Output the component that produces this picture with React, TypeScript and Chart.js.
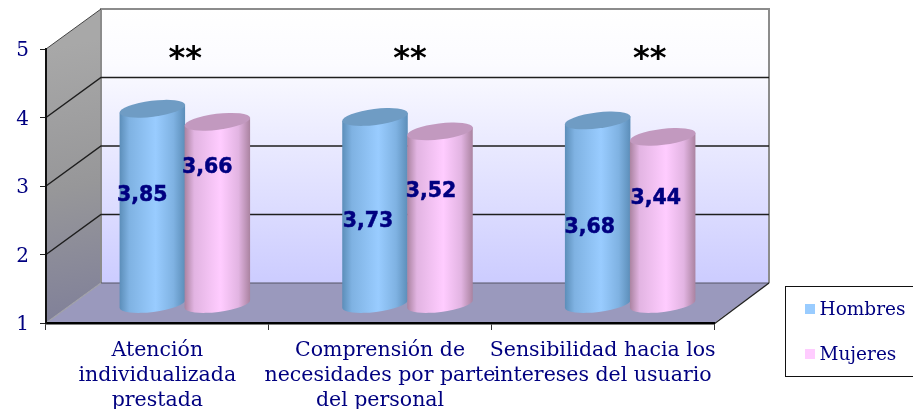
import React, { useEffect, useRef } from "react";
import { Chart, registerables } from "chart.js";

Chart.register(...registerables);

const categories = [
  ["Atención", "individualizada", "prestada"],
  ["Comprensión de", "necesidades por parte", "del personal"],
  ["Sensibilidad hacia los", "intereses del usuario"],
];
const hombres = [3.85, 3.73, 3.68];
const mujeres = [3.66, 3.52, 3.44];
const valueLabels = [
  ["3,85", "3,73", "3,68"],
  ["3,66", "3,52", "3,44"],
];
const significance = ["**", "**", "**"];
const starOffsets = [28, 30, 47];
const yTicks = [1, 2, 3, 4, 5];
const seriesNames = ["Hombres", "Mujeres"];

const labelOffsets = [
  [[17.5, 68], [20.5, 86], [19.5, 88]],
  [[17.5, 27], [18.5, 41], [20.5, 43]],
];

const NAVY = "#000080";
const DEPTH_X = 55;
const DEPTH_Y = -40;
const BAR_DX = 27.5;
const BAR_DY = -19;
const SERIF = "'DejaVu Serif'";
const palettes = [
  { edge: "#5b8db8", mid: "#7fb2e2", light: "#99ccff", cap: "#6f9cc4", swatch: "#99ccff" },
  { edge: "#a9829f", mid: "#e2b4e2", light: "#ffccff", cap: "#c299bf", swatch: "#ffccff" },
];

function drawCylinder(ctx: CanvasRenderingContext2D, el: any, base: number, pal: any) {
  const rot = (-7 * Math.PI) / 180;
  const rx = el.width / 2 + 0.5;
  const ry = 8;
  const cx = el.x + BAR_DX;
  const topY = el.y + BAR_DY;
  const botY = base + BAR_DY;
  const ex = rx * Math.cos(rot);
  const ey = rx * Math.sin(rot);
  const g = ctx.createLinearGradient(cx - rx, 0, cx + rx, 0);
  g.addColorStop(0, pal.edge);
  g.addColorStop(0.15, pal.mid);
  g.addColorStop(0.55, pal.light);
  g.addColorStop(0.82, pal.mid);
  g.addColorStop(1, pal.edge);
  ctx.save();
  ctx.beginPath();
  ctx.moveTo(cx - ex, topY - ey);
  ctx.lineTo(cx - ex, botY - ey);
  ctx.ellipse(cx, botY, rx, ry, rot, Math.PI, 0, true);
  ctx.lineTo(cx + ex, topY + ey);
  ctx.closePath();
  ctx.fillStyle = g;
  ctx.fill();
  ctx.beginPath();
  ctx.ellipse(cx, topY, rx, ry, rot, 0, Math.PI * 2);
  ctx.fillStyle = pal.cap;
  ctx.fill();
  ctx.restore();
}

const scene3d = {
  id: "scene3d",
  beforeDraw(chart: any) {
    const { ctx, chartArea: a, scales } = chart;
    const y = scales.y;
    const L = a.left, R = a.right, T = y.getPixelForValue(5), B = y.getPixelForValue(1);
    ctx.save();
    // back wall
    const back = ctx.createLinearGradient(0, T + DEPTH_Y, 0, B + DEPTH_Y);
    back.addColorStop(0, "#ffffff");
    back.addColorStop(0.2, "#fbfbff");
    back.addColorStop(1, "#ccccff");
    ctx.fillStyle = back;
    ctx.fillRect(L + DEPTH_X, T + DEPTH_Y, R - L, B - T);
    // left wall
    const side = ctx.createLinearGradient(L, T, L + DEPTH_X, B);
    side.addColorStop(0, "#a8a8a8");
    side.addColorStop(0.5, "#979799");
    side.addColorStop(1, "#7f7f99");
    ctx.beginPath();
    ctx.moveTo(L, B);
    ctx.lineTo(L, T);
    ctx.lineTo(L + DEPTH_X, T + DEPTH_Y);
    ctx.lineTo(L + DEPTH_X, B + DEPTH_Y);
    ctx.closePath();
    ctx.fillStyle = side;
    ctx.fill();
    // floor
    ctx.beginPath();
    ctx.moveTo(L, B);
    ctx.lineTo(R, B);
    ctx.lineTo(R + DEPTH_X, B + DEPTH_Y);
    ctx.lineTo(L + DEPTH_X, B + DEPTH_Y);
    ctx.closePath();
    ctx.fillStyle = "#9a99bd";
    ctx.fill();
    // outlines
    ctx.strokeStyle = "#8c8c8c";
    ctx.lineWidth = 2;
    ctx.beginPath();
    ctx.moveTo(L + DEPTH_X, B + DEPTH_Y);
    ctx.lineTo(L + DEPTH_X, T + DEPTH_Y);
    ctx.lineTo(R + DEPTH_X, T + DEPTH_Y);
    ctx.lineTo(R + DEPTH_X, B + DEPTH_Y);
    ctx.stroke();
    ctx.strokeStyle = "#555566";
    ctx.lineWidth = 1.2;
    ctx.beginPath();
    ctx.moveTo(L + DEPTH_X, B + DEPTH_Y);
    ctx.lineTo(R + DEPTH_X, B + DEPTH_Y);
    ctx.stroke();
    ctx.strokeStyle = "#a0a0a8";
    ctx.beginPath();
    ctx.moveTo(L, B);
    ctx.lineTo(L + DEPTH_X, B + DEPTH_Y);
    ctx.stroke();
    ctx.strokeStyle = "#222222";
    ctx.lineWidth = 1.4;
    ctx.beginPath();
    ctx.moveTo(R, B + 1);
    ctx.lineTo(R + DEPTH_X, B + DEPTH_Y);
    ctx.stroke();
    // gridlines
    y.ticks.forEach((t: any) => {
      if (t.value <= 1) return;
      const p = y.getPixelForValue(t.value);
      ctx.strokeStyle = t.value === 5 ? "#444444" : "#1e1e1e";
      ctx.lineWidth = t.value === 5 ? 1 : 1.5;
      ctx.beginPath();
      ctx.moveTo(L, p);
      ctx.lineTo(L + DEPTH_X, p + DEPTH_Y);
      if (t.value < 5) ctx.lineTo(R + DEPTH_X, p + DEPTH_Y);
      ctx.stroke();
    });
    ctx.restore();
  },
  beforeDatasetDraw() {
    return false;
  },
  afterDatasetsDraw(chart: any) {
    const { ctx, scales } = chart;
    const base = scales.y.getPixelForValue(1);
    [0, 1].forEach((d) => {
      chart.getDatasetMeta(d).data.forEach((el: any) => drawCylinder(ctx, el, base, palettes[d]));
    });
    ctx.save();
    ctx.textAlign = "center";
    ctx.textBaseline = "middle";
    ctx.fillStyle = NAVY;
    ctx.strokeStyle = NAVY;
    ctx.lineWidth = 0.5;
    ctx.font = "bold 20.5px 'DejaVu Sans'";
    [0, 1].forEach((d) => {
      chart.getDatasetMeta(d).data.forEach((el: any, i: number) => {
        const [ox, oy] = labelOffsets[d][i];
        ctx.fillText(valueLabels[d][i], el.x + ox, el.y + oy);
        ctx.strokeText(valueLabels[d][i], el.x + ox, el.y + oy);
      });
    });
    ctx.fillStyle = "#000000";
    ctx.font = "bold 32px 'DejaVu Sans'";
    significance.forEach((s, i) => {
      ctx.fillText(s, scales.x.getPixelForValue(i) + starOffsets[i], 60);
    });
    // legend
    ctx.strokeStyle = "#111111";
    ctx.lineWidth = 1;
    ctx.strokeRect(785.5, 286.5, 140, 90);
    ctx.textAlign = "left";
    ctx.font = `18.5px ${SERIF}`;
    seriesNames.forEach((n, i) => {
      const cy = 309 + i * 45;
      ctx.fillStyle = palettes[i].swatch;
      ctx.fillRect(805, cy - 5, 10, 10);
      ctx.fillStyle = NAVY;
      ctx.fillText(n, 819.5, cy + 1);
    });
    ctx.restore();
  },
};

export default function App() {
  const ref = useRef<HTMLCanvasElement>(null);
  useEffect(() => {
    const chart = new Chart(ref.current as HTMLCanvasElement, {
      type: "bar",
      data: {
        labels: categories as any,
        datasets: [
          { label: seriesNames[0], data: hombres, backgroundColor: palettes[0].swatch, barThickness: 65 } as any,
          { label: seriesNames[1], data: mujeres, backgroundColor: palettes[1].swatch, barThickness: 65 } as any,
        ],
      },
      plugins: [scene3d as any],
      options: {
        animation: false,
        responsive: false,
        events: [],
        layout: { padding: { top: 49, right: 199, left: 0, bottom: 0 } },
        plugins: { legend: { display: false }, tooltip: { enabled: false }, title: { display: false } },
        scales: {
          x: {
            afterFit: (s: any) => { s.height = 86; },
            border: { color: "#000000", width: 2.5 },
            grid: { display: true, drawOnChartArea: false, drawTicks: true, tickLength: 7, color: "#333333", offset: true },
            ticks: {
              autoSkip: false,
              maxRotation: 0,
              minRotation: 0,
              padding: 8,
              color: NAVY,
              font: { family: SERIF, size: 20.5, lineHeight: 25 / 20.5 },
            },
          },
          y: {
            min: 1,
            max: 5,
            afterFit: (s: any) => { s.width = 46; },
            afterBuildTicks: (s: any) => { s.ticks = yTicks.map((value) => ({ value })); },
            border: { color: "#111111", width: 2 },
            grid: { display: true, drawOnChartArea: false, drawTicks: true, tickLength: 6, color: "#222222" },
            ticks: {
              padding: 11,
              labelOffset: 2,
              color: NAVY,
              font: { family: SERIF, size: 20 },
            },
          },
        },
      },
    } as any);
    return () => chart.destroy();
  }, []);
  return (
    <div style={{ position: "absolute", left: 0, top: 0, width: 913, height: 409, overflow: "hidden", background: "#fff" }}>
      <canvas ref={ref} width={913} height={409} style={{ display: "block" }} />
    </div>
  );
}
